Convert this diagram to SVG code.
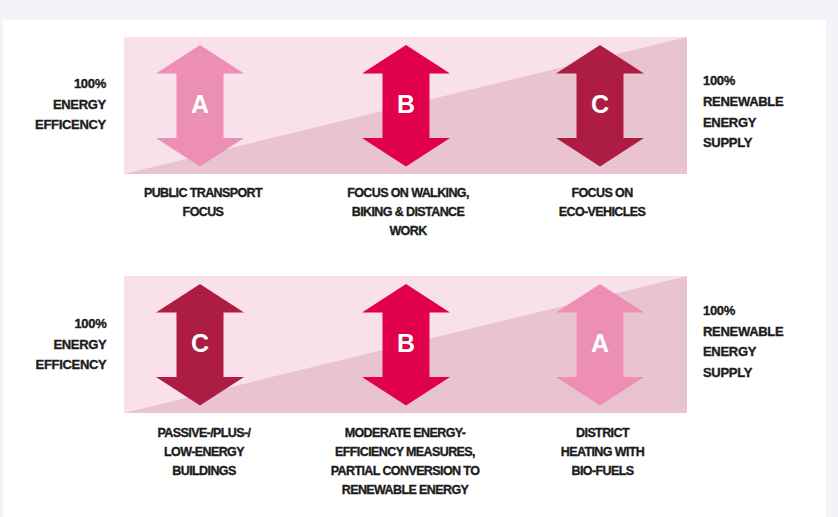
<svg xmlns="http://www.w3.org/2000/svg" xmlns:xlink="http://www.w3.org/1999/xlink" width="838" height="517" viewBox="0 0 838 517">
  <defs>
    <style>
      .band { fill: #f9e1eb; }
      .wedge { fill: #eac3d0; }
      .tone-a { fill: #ed8fb4; }
      .tone-b { fill: #e0004d; }
      .tone-c { fill: #ad1c43; }
      .letter { font-family: "Liberation Sans", Arial, sans-serif; font-weight: bold; font-size: 25px; fill: #ffffff; text-anchor: middle; }
      .side { font-family: "Liberation Sans", Arial, sans-serif; font-weight: bold; font-size: 13px; fill: #1c1c1c; stroke: #1c1c1c; stroke-width: 0.35px; letter-spacing: -0.3px; }
      .side-l { text-anchor: end; }
      .cap { font-family: "Liberation Sans", Arial, sans-serif; font-weight: bold; font-size: 12.5px; fill: #1c1c1c; stroke: #1c1c1c; stroke-width: 0.35px; text-anchor: middle; letter-spacing: -0.6px; }
    </style>
    <!-- double-headed arrow, centred on x=0, top tip at y=0 -->
    <path id="dbl-arrow" d="M0,0 L44,28.5 L23.5,28.5 L23.5,93 L44,93 L0,121.5 L-44,93 L-23.5,93 L-23.5,28.5 L-44,28.5 Z"/>
  </defs>

  <!-- page and card -->
  <rect x="0" y="0" width="838" height="517" fill="#f3f4f9"/>
  <rect x="3" y="20" width="823" height="497" fill="#ffffff"/>

  <!-- ===== Mobility panel ===== -->
  <g id="panel-mobility">
    <rect class="band" x="124" y="37" width="563" height="137"/>
    <polygon class="wedge" points="124,174 687,37 687,174"/>
  </g>

  <g id="mobility-left-label">
    <text class="side side-l" x="106" y="88">100%</text>
    <text class="side side-l" x="106" y="108.5">ENERGY</text>
    <text class="side side-l" x="106" y="129">EFFICENCY</text>
  </g>

  <g id="mobility-right-label">
    <text class="side" x="703" y="85">100%</text>
    <text class="side" x="703" y="106">RENEWABLE</text>
    <text class="side" x="703" y="126.5">ENERGY</text>
    <text class="side" x="703" y="147">SUPPLY</text>
  </g>

  <g id="mobility-a">
    <use xlink:href="#dbl-arrow" class="tone-a" transform="translate(200,45)"/>
    <text class="letter" x="200" y="112.5">A</text>
    <text class="cap" x="203" y="197">PUBLIC TRANSPORT</text>
    <text class="cap" x="203" y="216">FOCUS</text>
  </g>

  <g id="mobility-b">
    <use xlink:href="#dbl-arrow" class="tone-b" transform="translate(406,45)"/>
    <text class="letter" x="406" y="112.5">B</text>
    <text class="cap" x="408" y="197">FOCUS ON WALKING,</text>
    <text class="cap" x="408" y="216">BIKING &amp; DISTANCE</text>
    <text class="cap" x="408" y="235">WORK</text>
  </g>

  <g id="mobility-c">
    <use xlink:href="#dbl-arrow" class="tone-c" transform="translate(600,45)"/>
    <text class="letter" x="600" y="112.5">C</text>
    <text class="cap" x="602" y="197">FOCUS ON</text>
    <text class="cap" x="602" y="216">ECO-VEHICLES</text>
  </g>

  <!-- ===== Buildings panel ===== -->
  <g id="panel-buildings">
    <rect class="band" x="124" y="276" width="563" height="137"/>
    <polygon class="wedge" points="124,413 687,276 687,413"/>
  </g>

  <g id="buildings-left-label">
    <text class="side side-l" x="106.5" y="328">100%</text>
    <text class="side side-l" x="106.5" y="348.5">ENERGY</text>
    <text class="side side-l" x="106.5" y="369">EFFICENCY</text>
  </g>

  <g id="buildings-right-label">
    <text class="side" x="703" y="315">100%</text>
    <text class="side" x="703" y="335.5">RENEWABLE</text>
    <text class="side" x="703" y="356">ENERGY</text>
    <text class="side" x="703" y="376.5">SUPPLY</text>
  </g>

  <g id="buildings-c">
    <use xlink:href="#dbl-arrow" class="tone-c" transform="translate(200,284)"/>
    <text class="letter" x="200" y="351.5">C</text>
    <text class="cap" x="204" y="437">PASSIVE-/PLUS-/</text>
    <text class="cap" x="204" y="456">LOW-ENERGY</text>
    <text class="cap" x="204" y="475">BUILDINGS</text>
  </g>

  <g id="buildings-b">
    <use xlink:href="#dbl-arrow" class="tone-b" transform="translate(406,284)"/>
    <text class="letter" x="406" y="351.5">B</text>
    <text class="cap" x="405" y="437">MODERATE ENERGY-</text>
    <text class="cap" x="405" y="456">EFFICIENCY MEASURES,</text>
    <text class="cap" x="405" y="475">PARTIAL CONVERSION TO</text>
    <text class="cap" x="405" y="494">RENEWABLE ENERGY</text>
  </g>

  <g id="buildings-a">
    <use xlink:href="#dbl-arrow" class="tone-a" transform="translate(600,284)"/>
    <text class="letter" x="600" y="351.5">A</text>
    <text class="cap" x="602.5" y="437">DISTRICT</text>
    <text class="cap" x="602.5" y="456">HEATING WITH</text>
    <text class="cap" x="602.5" y="475">BIO-FUELS</text>
  </g>

  <g id="connectors"/>
</svg>
